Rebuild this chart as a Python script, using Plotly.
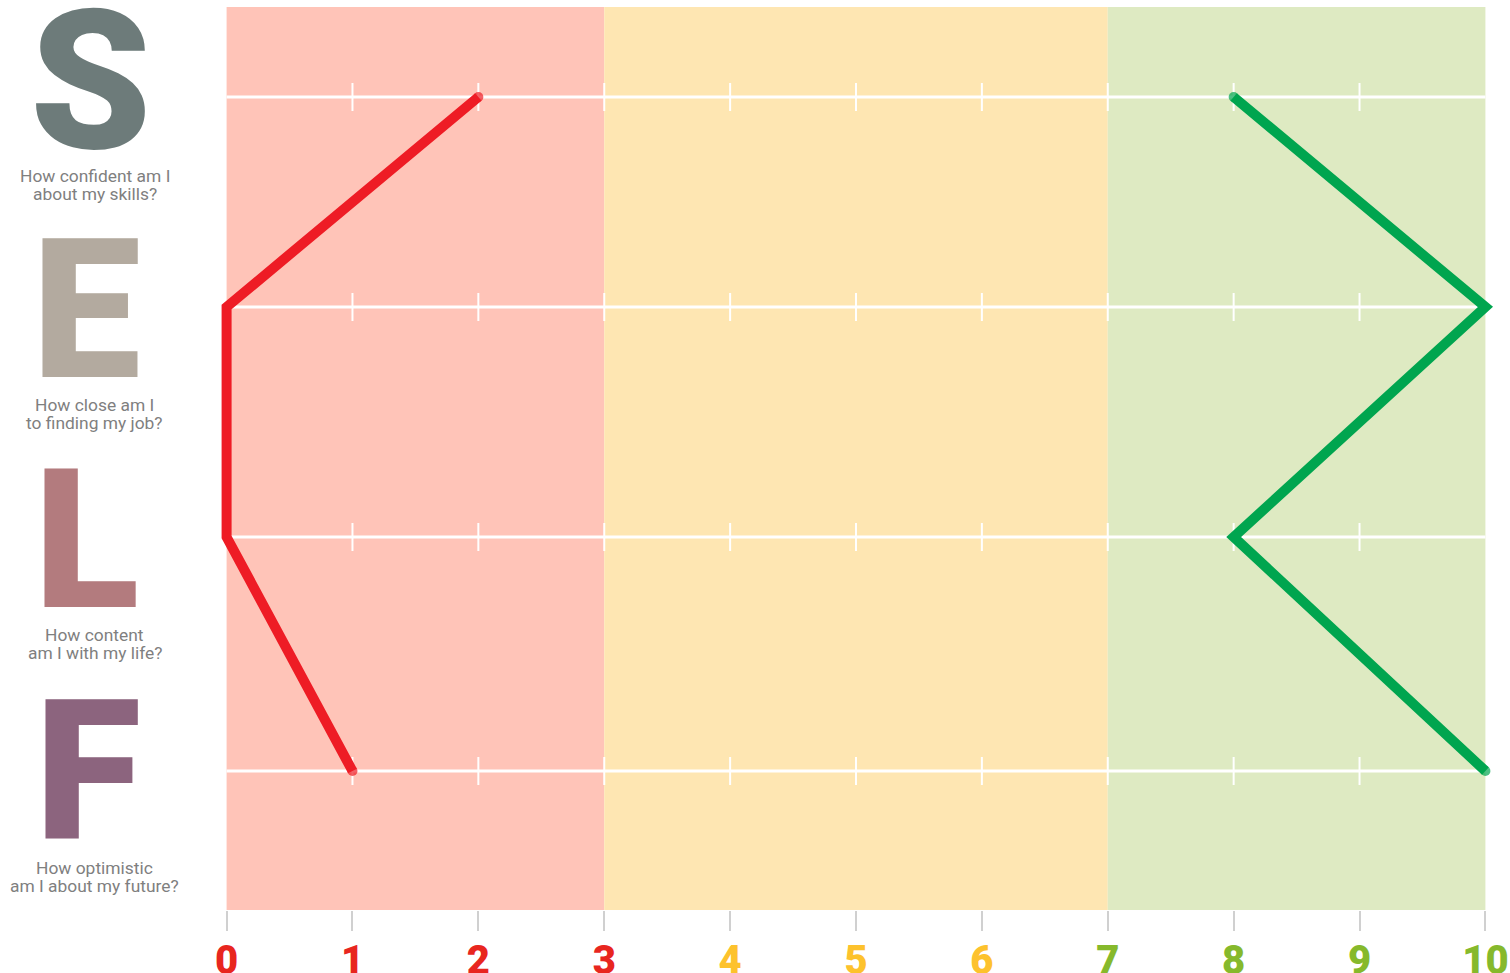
import plotly.graph_objects as go

# ---- data ----
letters = ["S", "E", "L", "F"]
questions = [
    ["How confident am I", "about my skills?"],
    ["How close am I", "to finding my job?"],
    ["How content", "am I with my life?"],
    ["How optimistic", "am I about my future?"],
]
red_scores = [2, 0, 0, 1]
green_scores = [8, 10, 8, 10]
tick_values = list(range(0, 11))
tick_labels = [str(v) for v in tick_values]

# ---- layout helpers ----
row_pos = [0.90, 3.00, 5.30, 7.64]          # vertical position of each row (axis units)
letter_pos = [0.74, 3.03, 5.33, 7.64]
letter_x = [-0.096, -0.0995, -0.0995, -0.0985]
question_pos = [(1.69, 1.87), (3.98, 4.16), (6.28, 6.46), (8.61, 8.79)]
letter_colors = ["#6d7b7a", "#b3aa9f", "#b37b7e", "#8c647e"]
bands = [(0, 3, "#ffc4b8"), (3, 7, "#fee6b2"), (7, 10, "#deeac2")]


def tick_color(v):
    if v <= 3:
        return "#e8261f"
    if v <= 6:
        return "#fdc22d"
    return "#86b92c"


ticktext = [f'<span style="color:{tick_color(v)}">{t}</span>' for v, t in zip(tick_values, tick_labels)]

fig = go.Figure()

# small white cross ticks on each row line
cx, cy = [], []
for r in row_pos:
    for v in range(1, 10):
        cx.append(v)
        cy.append(r)
fig.add_trace(go.Scatter(
    x=cx, y=cy, mode="markers", hoverinfo="skip",
    marker=dict(symbol="line-ns", size=20, line=dict(color="white", width=2)),
    showlegend=False,
))

for scores, col in [(red_scores, "#ee1c25"), (green_scores, "#00a54f")]:
    fig.add_trace(go.Scatter(
        x=scores, y=row_pos, mode="lines+markers", cliponaxis=False,
        line=dict(color=col, width=10),
        marker=dict(color=col, size=[10, 0, 0, 10], line=dict(width=0)),
        showlegend=False, hoverinfo="skip",
    ))

shapes = []
for x0, x1, c in bands:
    shapes.append(dict(type="rect", xref="x", yref="paper", x0=x0, x1=x1, y0=0, y1=1,
                       fillcolor=c, line=dict(width=0), layer="below"))
for r in row_pos:
    shapes.append(dict(type="line", xref="x", yref="y", x0=0, x1=10, y0=r, y1=r,
                       line=dict(color="white", width=3), layer="below"))

annotations = []
for L, q, lp, lx, qp, c in zip(letters, questions, letter_pos, letter_x, question_pos, letter_colors):
    annotations.append(dict(text=L, xref="paper", yref="y", x=lx, y=lp,
                            showarrow=False, xanchor="center", yanchor="middle",
                            font=dict(family="Roboto", size=194, color=c, weight=900)))
    for line, y in zip(q, qp):
        annotations.append(dict(text=line, xref="paper", yref="y", x=-0.093, y=y,
                                showarrow=False, xanchor="center", yanchor="middle",
                                font=dict(family="Roboto", size=17.4, color="#7f7f7f", weight=400)))

pad = 0.1
unit = 125.8
W, H = 1510, 973
plot_left, plot_right = 227, 1485
fig.update_layout(
    width=W, height=H,
    margin=dict(l=plot_left - pad * unit, r=W - plot_right - pad * unit, t=7, b=63, autoexpand=False),
    paper_bgcolor="white", plot_bgcolor="white",
    shapes=shapes, annotations=annotations,
    xaxis=dict(range=[-pad, 10 + pad], tickvals=tick_values, ticktext=ticktext,
               ticks="outside", ticklen=20, tickwidth=2, tickcolor="#d0d0d0",
               ticklabelstandoff=-5,
               showgrid=False, zeroline=False, showline=False, fixedrange=True,
               tickfont=dict(family="Roboto", size=40, weight=900)),
    yaxis=dict(range=[9.03, 0], visible=False, showgrid=False, zeroline=False, fixedrange=True),
)

fig.write_html("out.html", config={"displayModeBar": False},
               post_script="document.body.style.margin='0';document.body.style.overflow='hidden';")
